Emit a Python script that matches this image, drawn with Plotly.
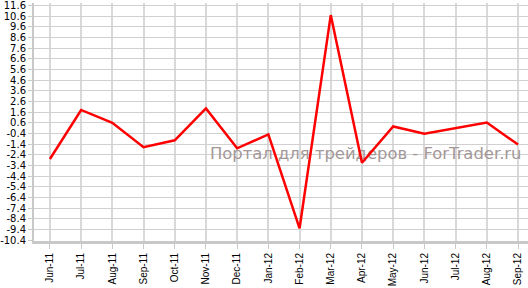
import plotly.graph_objects as go

months = ["Jun-11", "Jul-11", "Aug-11", "Sep-11", "Oct-11", "Nov-11", "Dec-11", "Jan-12",
          "Feb-12", "Mar-12", "Apr-12", "May-12", "Jun-12", "Jul-12", "Aug-12", "Sep-12"]
values = [-2.8, 1.8, 0.6, -1.7, -1.05, 1.95, -1.8, -0.5,
          -9.3, 10.7, -3.15, 0.25, -0.42, 0.1, 0.62, -1.45]
y_ticks = [round(-10.4 + i, 1) for i in range(23)]
y_ticktext = [f"{v:.1f}" for v in y_ticks]
watermark = "Портал для трейдеров - ForTrader.ru"

idx = list(range(len(months)))

fig = go.Figure()
fig.add_trace(go.Scatter(
    x=[10.12], y=[-2.45], mode="text", text=[watermark],
    textfont=dict(family="DejaVu Sans", size=16.4, color="#a39898"),
    hoverinfo="skip", showlegend=False))
fig.add_trace(go.Scatter(
    x=idx, y=values, mode="lines",
    line=dict(color="#ff0000", width=2.5),
    showlegend=False))

fig.update_layout(
    width=528, height=288,
    margin=dict(l=32, r=0, t=3, b=47),
    paper_bgcolor="white", plot_bgcolor="white",
    showlegend=False,
)
fig.update_xaxes(
    range=[-0.51, 15.32],
    tickmode="array", tickvals=idx, ticktext=months,
    tickangle=-90, tickfont=dict(family="Liberation Sans, Arial", size=10, color="black"),
    ticks="outside", ticklen=5, tickcolor="#c8c8c8", tickwidth=1,
    showgrid=True, gridcolor="#d9d9d9", gridwidth=2,
    showline=True, linecolor="#c8c8c8", linewidth=3,
    zeroline=False,
)
fig.update_yaxes(
    range=[-10.494, 11.834],
    tickmode="array", tickvals=y_ticks, ticktext=y_ticktext,
    tickfont=dict(family="DejaVu Sans", size=10, color="black"),
    ticklabeloverflow="allow",
    ticks="outside", ticklen=4, tickcolor="#c8c8c8", tickwidth=1,
    showgrid=True, gridcolor="#d0d0d0", gridwidth=1,
    showline=True, linecolor="#c8c8c8", linewidth=2,
    zeroline=False,
)

fig.write_html("out.html")
